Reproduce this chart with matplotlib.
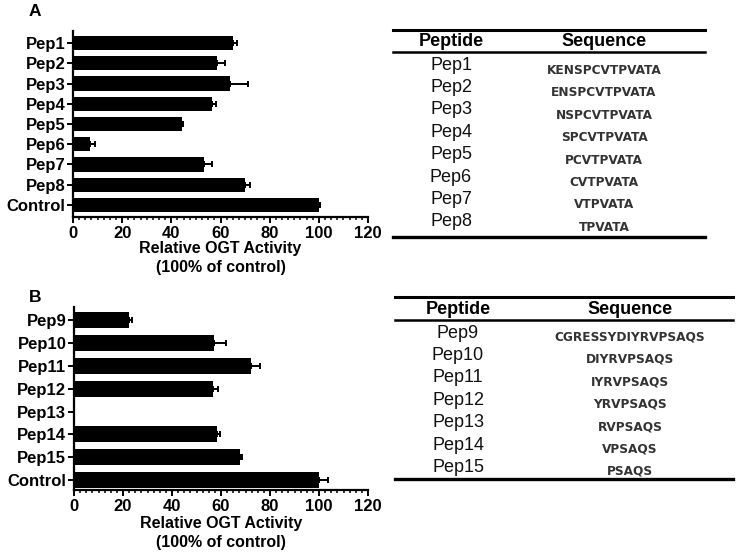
import matplotlib
matplotlib.use("Agg")
import matplotlib.pyplot as plt
from matplotlib.lines import Line2D
from matplotlib.ticker import MultipleLocator

plt.rcParams['font.family'] = ['Liberation Sans', 'DejaVu Sans']

# ---------------- data ----------------
cats_a = ["Pep1", "Pep2", "Pep3", "Pep4", "Pep5", "Pep6", "Pep7", "Pep8", "Control"]
vals_a = [65.0, 58.5, 63.9, 56.7, 44.4, 6.9, 53.1, 69.8, 100.1]
errs_a = [1.7, 3.5, 7.2, 1.4, 0.4, 2.2, 3.4, 2.4, 0.4]

cats_b = ["Pep9", "Pep10", "Pep11", "Pep12", "Pep13", "Pep14", "Pep15", "Control"]
vals_b = [22.6, 57.2, 72.1, 56.9, 0.0, 58.2, 67.7, 99.9]
errs_b = [1.2, 4.9, 3.7, 1.7, 0.0, 1.3, 0.8, 3.9]

xticks = [0, 20, 40, 60, 80, 100, 120]
xlabel = "Relative OGT Activity\n(100% of control)"

table_headers = ["Peptide", "Sequence"]
pep_a = ["Pep1", "Pep2", "Pep3", "Pep4", "Pep5", "Pep6", "Pep7", "Pep8"]
seq_a = ["KENSPCVTPVATA", "ENSPCVTPVATA", "NSPCVTPVATA", "SPCVTPVATA",
         "PCVTPVATA", "CVTPVATA", "VTPVATA", "TPVATA"]
pep_b = ["Pep9", "Pep10", "Pep11", "Pep12", "Pep13", "Pep14", "Pep15"]
seq_b = ["CGRESSYDIYRVPSAQS", "DIYRVPSAQS", "IYRVPSAQS", "YRVPSAQS",
         "RVPSAQS", "VPSAQS", "PSAQS"]

# ---------------- figure ----------------
W, H = 740, 553
fig = plt.figure(figsize=(W / 100, H / 100), dpi=100)


def fx(px):
    return px / W


def fy(py):
    return 1 - py / H


def bar_panel(rect, cats, vals, errs, ylim, labelpad):
    l, t, r, b = rect
    ax = fig.add_axes([fx(l), fy(b), fx(r) - fx(l), fy(t) - fy(b)])
    pos = list(range(len(cats)))
    ax.barh(pos, vals, height=0.7, color="black", zorder=2)
    xerr = [[0] * len(errs), errs]
    ax.errorbar(vals, pos, xerr=xerr, fmt="none", ecolor="black",
                elinewidth=1.4, capsize=2.5, capthick=1.4, zorder=3)
    ax.set_ylim(*ylim)
    ax.set_xlim(0, 120)
    ax.set_yticks(pos)
    ax.set_yticklabels(cats)
    ax.set_xticks(xticks)
    ax.set_xticklabels([str(v) for v in xticks])
    ax.xaxis.set_minor_locator(MultipleLocator(2.5))
    for s in ["top", "right"]:
        ax.spines[s].set_visible(False)
    for s in ["left", "bottom"]:
        ax.spines[s].set_linewidth(1.6)
    ax.tick_params(axis="y", length=4.5, width=1.4, pad=1, labelsize=12)
    ax.tick_params(axis="x", which="major", length=4.5, width=1.4, pad=2,
                   labelsize=12)
    ax.tick_params(axis="x", which="minor", length=2.5, width=1.1)
    for lab in ax.get_xticklabels() + ax.get_yticklabels():
        lab.set_fontweight("bold")
    ax.set_xlabel(xlabel, fontsize=11.5, fontweight="bold",
                  labelpad=labelpad, linespacing=1.3)
    return ax


bar_panel((73, 31, 368, 217), cats_a, vals_a, errs_a, (8.6, -0.6), 0)
bar_panel((74, 307, 368, 490), cats_b, vals_b, errs_b, (7.44, -0.58), 1.5)

fig.text(fx(35), fy(12), "A", fontsize=12.5, fontweight="bold",
         ha="center", va="center")
fig.text(fx(35), fy(297), "B", fontsize=12.5, fontweight="bold",
         ha="center", va="center")


def hline(x0, x1, y, lw):
    fig.add_artist(Line2D([fx(x0), fx(x1)], [fy(y), fy(y)],
                          color="black", linewidth=lw))


def table(x0, x1, ytop, yhead, ybot, hy, pep_x, seq_x, peps, seqs,
          pep_y0, seq_y0, step):
    hline(x0, x1, ytop, 2.2)
    hline(x0, x1, yhead, 1.8)
    hline(x0, x1, ybot, 2.4)
    fig.text(fx(pep_x), fy(hy), table_headers[0], fontsize=13,
             fontweight="bold", ha="center", va="center")
    fig.text(fx(seq_x), fy(hy), table_headers[1], fontsize=13,
             fontweight="bold", ha="center", va="center")
    for i, (p, s) in enumerate(zip(peps, seqs)):
        fig.text(fx(pep_x), fy(pep_y0 + i * step), p, fontsize=13,
                 ha="center", va="center", color="#111111")
        fig.text(fx(seq_x), fy(seq_y0 + i * step), s, fontsize=8.7,
                 family=["DejaVu Sans"], fontweight="bold",
                 ha="center", va="center", color="#333333")


table(393, 705, 30, 52, 237, 42, 451, 604, pep_a, seq_a, 65, 70.5, 22.4)
table(395, 733, 297, 320, 479, 309, 458, 630, pep_b, seq_b, 333, 337, 22.4)

fig.savefig("out.png", dpi=100)
